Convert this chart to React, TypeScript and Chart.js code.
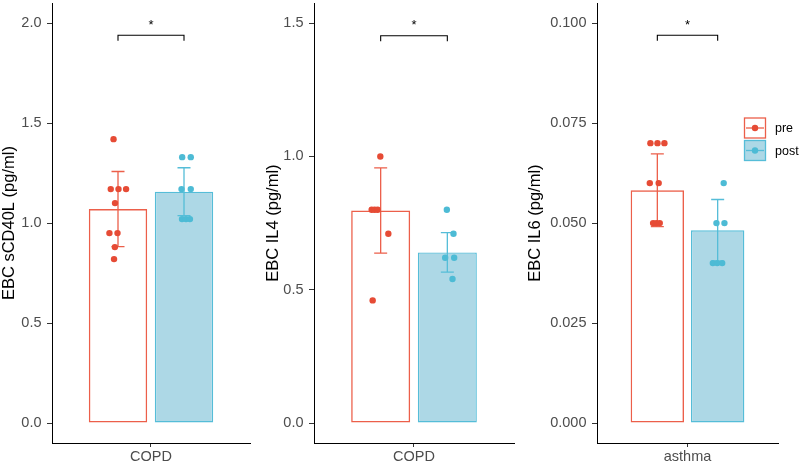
import React, { useEffect, useRef } from "react";
import { Chart, registerables } from "chart.js";

Chart.register(...registerables);

// ---------- data ----------
const groups = ["pre", "post"];
const groupX = [0.8, 1.2];

// Panel 1: sCD40L
const p1Category = "COPD";
const p1Title = "EBC sCD40L (pg/ml)";
const p1Means = [1.07, 1.157];
const p1Sds = [0.188, 0.12];
const p1PreValues = [1.42, 1.17, 1.17, 1.17, 1.1, 0.95, 0.95, 0.88, 0.82];
const p1PreJitter = [-0.027, -0.044, 0.003, 0.049, -0.018, -0.052, -0.003, -0.019, -0.024];
const p1PostValues = [1.33, 1.33, 1.17, 1.17, 1.02, 1.02, 1.02];
const p1PostJitter = [-0.011, 0.041, -0.015, 0.041, -0.012, 0.012, 0.036];
const p1YTicks = [0, 0.5, 1.0, 1.5, 2.0];
const p1YLabels = ["0.0", "0.5", "1.0", "1.5", "2.0"];
const p1YRange = [-0.1, 2.1];
const p1Bracket = 1.94;

// Panel 2: IL4
const p2Category = "COPD";
const p2Title = "EBC IL4 (pg/ml)";
const p2Means = [0.797, 0.64];
const p2Sds = [0.16, 0.074];
const p2PreValues = [1.0, 0.8, 0.8, 0.8, 0.71, 0.46];
const p2PreJitter = [-0.002, -0.054, -0.036, -0.018, 0.046, -0.048];
const p2PostValues = [0.8, 0.71, 0.62, 0.62, 0.54];
const p2PostJitter = [-0.003, 0.037, -0.013, 0.041, 0.031];
const p2YTicks = [0, 0.5, 1.0, 1.5];
const p2YLabels = ["0.0", "0.5", "1.0", "1.5"];
const p2YRange = [-0.075, 1.575];
const p2Bracket = 1.453;

// Panel 3: IL6
const p3Category = "asthma";
const p3Title = "EBC IL6 (pg/ml)";
const p3Means = [0.0582, 0.0482];
const p3Sds = [0.0091, 0.0077];
const p3PreValues = [0.07, 0.07, 0.07, 0.06, 0.06, 0.05, 0.05, 0.05];
const p3PreJitter = [-0.046, 0.001, 0.047, -0.05, 0.009, -0.028, -0.006, 0.016];
const p3PostValues = [0.06, 0.05, 0.05, 0.04, 0.04, 0.04];
const p3PostJitter = [0.04, -0.008, 0.045, -0.032, -0.003, 0.03];
const p3YTicks = [0, 0.025, 0.05, 0.075, 0.1];
const p3YLabels = ["0.000", "0.025", "0.050", "0.075", "0.100"];
const p3YRange = [-0.005, 0.105];
const p3Bracket = 0.097;

const sigLabel = "*";

// ---------- styles ----------
const FONT = "'Liberation Sans', Arial, Helvetica, sans-serif";
const dotColors = ["#E64B35", "#4DBBD5"];
const lineColors = ["#EC5F4A", "#55BDD8"];
const fillColors = ["rgba(255,255,255,0)", "#ADD8E6"];
const legendFills = ["#FFFFFF", "#ADD8E6"];
const TICK_FONT = 14.5;
const TITLE_FONT = 16.5;
const CAP = 6.5;
const H = 464;

type Panel = {
  category: string;
  title: string;
  means: number[];
  sds: number[];
  preValues: number[];
  preJitter: number[];
  postValues: number[];
  postJitter: number[];
  yTicks: number[];
  yLabels: string[];
  yRange: number[];
  bracket: number;
};

type Layout = { left: number; width: number; axisWidth: number; padRight: number; titlePad: number };

const panels: Panel[] = [
  { category: p1Category, title: p1Title, means: p1Means, sds: p1Sds, preValues: p1PreValues, preJitter: p1PreJitter, postValues: p1PostValues, postJitter: p1PostJitter, yTicks: p1YTicks, yLabels: p1YLabels, yRange: p1YRange, bracket: p1Bracket },
  { category: p2Category, title: p2Title, means: p2Means, sds: p2Sds, preValues: p2PreValues, preJitter: p2PreJitter, postValues: p2PostValues, postJitter: p2PostJitter, yTicks: p2YTicks, yLabels: p2YLabels, yRange: p2YRange, bracket: p2Bracket },
  { category: p3Category, title: p3Title, means: p3Means, sds: p3Sds, preValues: p3PreValues, preJitter: p3PreJitter, postValues: p3PostValues, postJitter: p3PostJitter, yTicks: p3YTicks, yLabels: p3YLabels, yRange: p3YRange, bracket: p3Bracket },
];

const layouts: Layout[] = [
  { left: 0, width: 262, axisWidth: 52, padRight: 12, titlePad: 0 },
  { left: 264, width: 260, axisWidth: 50, padRight: 10, titlePad: 0 },
  { left: 525, width: 275, axisWidth: 72, padRight: 22, titlePad: 1 },
];

function makeConfig(p: Panel, L: Layout, showLegend: boolean): any {
  const pts = (vals: number[], jit: number[], gx: number) => vals.map((v, i) => ({ x: gx + jit[i], y: v }));

  const extras = {
    id: "extras",
    afterDatasetDraw(chart: any, args: any) {
      if (args.meta.type !== "bar") return;
      const ctx = chart.ctx;
      const xs = chart.scales.x;
      const ys = chart.scales.y;
      ctx.save();
      p.means.forEach((m, i) => {
        const px = xs.getPixelForValue(groupX[i]);
        const yTop = ys.getPixelForValue(m + p.sds[i]);
        const yBot = ys.getPixelForValue(m - p.sds[i]);
        ctx.strokeStyle = lineColors[i];
        ctx.lineWidth = 1.3;
        ctx.beginPath();
        ctx.moveTo(px, yTop);
        ctx.lineTo(px, yBot);
        ctx.moveTo(px - CAP, yTop);
        ctx.lineTo(px + CAP, yTop);
        ctx.moveTo(px - CAP, yBot);
        ctx.lineTo(px + CAP, yBot);
        ctx.stroke();
      });
      ctx.restore();
    },
    afterDatasetsDraw(chart: any) {
      const ctx = chart.ctx;
      const xs = chart.scales.x;
      const ys = chart.scales.y;
      const x0 = xs.getPixelForValue(groupX[0]);
      const x1 = xs.getPixelForValue(groupX[1]);
      const yb = ys.getPixelForValue(p.bracket);
      ctx.save();
      ctx.strokeStyle = "#000";
      ctx.lineWidth = 1.1;
      ctx.beginPath();
      ctx.moveTo(x0, yb + 5.5);
      ctx.lineTo(x0, yb);
      ctx.lineTo(x1, yb);
      ctx.lineTo(x1, yb + 5.5);
      ctx.stroke();
      ctx.fillStyle = "#000";
      ctx.font = `13px ${FONT}`;
      ctx.textAlign = "center";
      ctx.textBaseline = "alphabetic";
      ctx.fillText(sigLabel, (x0 + x1) / 2, yb - 6.5);
      ctx.restore();
    },
    afterDraw(chart: any) {
      if (!showLegend) return;
      const ctx = chart.ctx;
      const bx = chart.width - 56;
      const tops = [117.5, 140];
      const bw = 22;
      const bh = 21;
      ctx.save();
      groups.forEach((g, i) => {
        const top = tops[i];
        ctx.fillStyle = legendFills[i];
        ctx.fillRect(bx, top, bw, bh);
        ctx.strokeStyle = lineColors[i];
        ctx.lineWidth = 1.3;
        ctx.strokeRect(bx + 0.5, top + 0.5, bw - 1, bh - 1);
        const cy = top + bh / 2;
        ctx.beginPath();
        ctx.moveTo(bx + 2, cy);
        ctx.lineTo(bx + bw - 2, cy);
        ctx.stroke();
        ctx.fillStyle = dotColors[i];
        ctx.beginPath();
        ctx.arc(bx + bw / 2, cy, 3.2, 0, Math.PI * 2);
        ctx.fill();
        ctx.fillStyle = "#000";
        ctx.font = `12.5px ${FONT}`;
        ctx.textAlign = "left";
        ctx.textBaseline = "middle";
        ctx.fillText(g, bx + bw + 9, cy + 1);
      });
      ctx.restore();
    },
  };

  return {
    type: "bar",
    data: {
      datasets: [
        {
          type: "bar",
          label: "bars",
          data: p.means.map((m, i) => ({ x: groupX[i], y: m })),
          backgroundColor: fillColors,
          borderColor: lineColors,
          borderWidth: 1.4,
          borderSkipped: false,
          categoryPercentage: 1,
          barPercentage: 0.885,
          order: 2,
        },
        {
          type: "scatter",
          label: groups[0],
          data: pts(p.preValues, p.preJitter, groupX[0]),
          backgroundColor: dotColors[0],
          borderWidth: 0,
          pointRadius: 3.2,
          pointHoverRadius: 3.2,
          order: 1,
        },
        {
          type: "scatter",
          label: groups[1],
          data: pts(p.postValues, p.postJitter, groupX[1]),
          backgroundColor: dotColors[1],
          borderWidth: 0,
          pointRadius: 3.2,
          pointHoverRadius: 3.2,
          order: 1,
        },
      ],
    },
    options: {
      responsive: false,
      animation: false,
      devicePixelRatio: 1,
      layout: { padding: { top: 2.5, left: 0, right: L.padRight, bottom: 0 } },
      plugins: { legend: { display: false }, tooltip: { enabled: false } },
      scales: {
        x: {
          type: "linear",
          min: 0.4,
          max: 1.6,
          offset: false,
          grid: { display: true, offset: false, drawOnChartArea: false, drawTicks: true, tickLength: 4, color: "#333", lineWidth: 1 },
          border: { display: true, color: "#000", width: 1 },
          ticks: { font: { family: FONT, size: TICK_FONT }, color: "#4D4D4D", padding: 1, callback: () => p.category },
          afterBuildTicks: (s: any) => {
            s.ticks = [{ value: 1 }];
          },
          afterFit: (s: any) => {
            s.height = 21;
            s.paddingLeft = 0;
            s.paddingRight = 0;
          },
        },
        y: {
          type: "linear",
          min: p.yRange[0],
          max: p.yRange[1],
          grid: { display: true, drawOnChartArea: false, drawTicks: true, tickLength: 5, color: "#333", lineWidth: 1 },
          border: { display: true, color: "#000", width: 1 },
          ticks: {
            font: { family: FONT, size: TICK_FONT },
            color: "#4D4D4D",
            padding: 5.5,
            autoSkip: false,
            callback: (_v: any, i: number) => p.yLabels[i],
          },
          afterBuildTicks: (s: any) => {
            s.ticks = p.yTicks.map((v) => ({ value: v }));
          },
          title: {
            display: true,
            text: p.title,
            color: "#000",
            font: { family: FONT, size: TITLE_FONT },
            padding: { top: L.titlePad, bottom: 0 },
          },
          afterFit: (s: any) => {
            s.width = L.axisWidth;
            s.paddingTop = 0;
            s.paddingBottom = 0;
          },
        },
      },
    },
    plugins: [extras],
  };
}

function PanelChart({ panel, layout, showLegend }: { panel: Panel; layout: Layout; showLegend: boolean }) {
  const ref = useRef<HTMLCanvasElement>(null);
  useEffect(() => {
    const chart = new Chart(ref.current as HTMLCanvasElement, makeConfig(panel, layout, showLegend));
    return () => chart.destroy();
  }, [panel, layout, showLegend]);
  return (
    <canvas
      ref={ref}
      width={layout.width}
      height={H}
      style={{ position: "absolute", left: layout.left, top: 0, width: layout.width, height: H, display: "block" }}
    />
  );
}

export default function App() {
  return (
    <div style={{ position: "fixed", left: 0, top: 0, width: 800, height: H, background: "#fff", overflow: "hidden" }}>
      {panels.map((p, i) => (
        <PanelChart key={i} panel={p} layout={layouts[i]} showLegend={i === panels.length - 1} />
      ))}
    </div>
  );
}
